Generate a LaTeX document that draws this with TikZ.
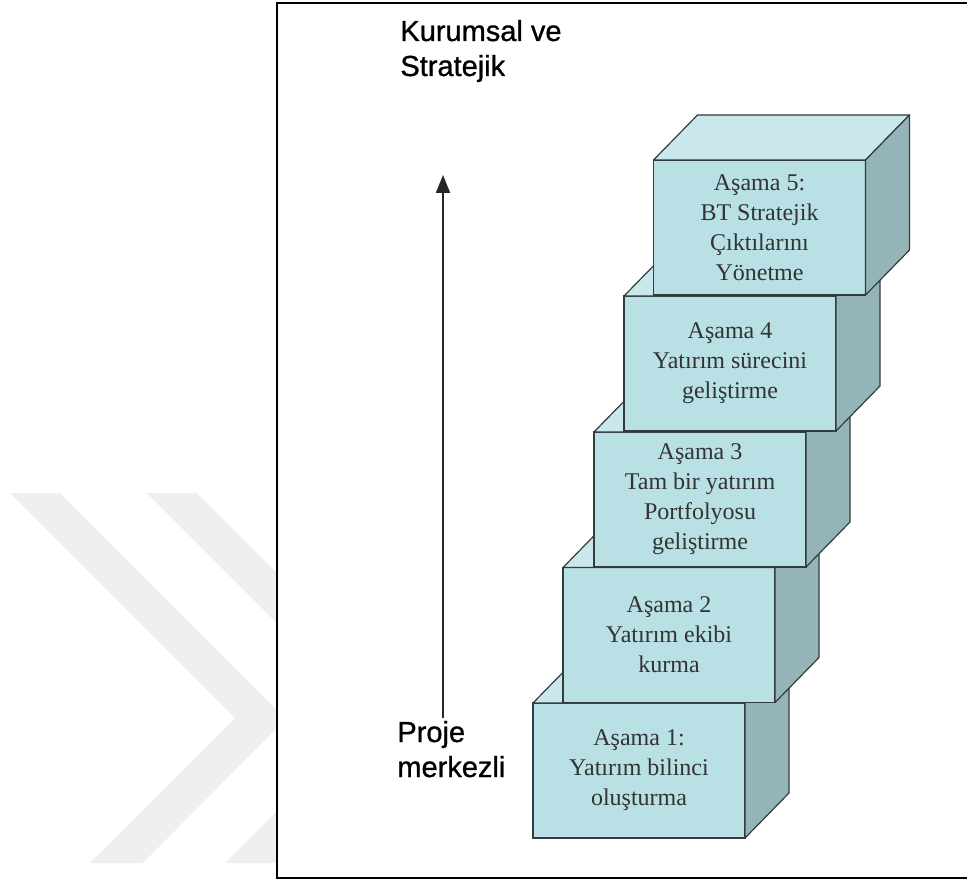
\documentclass[tikz,border=0pt]{standalone}
\usepackage{fontspec}
\setmainfont{Liberation Serif}
\newfontfamily\labelfont[FakeBold=0.9]{Liberation Sans}
\usepackage{tikz}
\usetikzlibrary{arrows.meta}
\definecolor{face_front}{RGB}{185,224,228}
\definecolor{face_top}{RGB}{202,232,235}
\definecolor{face_side}{RGB}{148,180,183}
\definecolor{edge_dark}{RGB}{50,60,62}
\definecolor{mark_gray}{RGB}{239,239,239}

\begin{document}
\begin{tikzpicture}[x=0.5pt,y=-0.5pt,>={Triangle[length=9pt,width=7pt]}]
    \tikzstyle{stage}=[draw=edge_dark,fill=face_front,line width=0.6pt,minimum width=106pt,minimum height=67.5pt,inner sep=0pt,outer sep=0pt,align=center,text=black!80,font=\fontsize{12}{15}\selectfont]
    \tikzstyle{topface}=[draw=edge_dark,fill=face_top,line width=0.6pt,line join=round]
    \tikzstyle{sideface}=[draw=edge_dark,fill=face_side,line width=0.6pt,line join=round]
    \tikzstyle{axislabel}=[anchor=base west,inner sep=0pt,align=left,text=black,font=\labelfont\fontsize{14.5}{17.5}\selectfont]

    \useasboundingbox (0,0) rectangle (967,882);

    % faint chevrons behind the frame
    \fill[mark_gray] (10,493) -- (60,493) -- (286,719) -- (143,863) -- (90,863) -- (235,718) -- cycle;
    \fill[mark_gray] (147,493) -- (197,493) -- (421,717) -- (275,863) -- (225,863) -- (371,717) -- cycle;

    % frame
    \draw[line width=1.1pt,fill=white] (277,3) rectangle (972,878);

    % stages, bottom to top
    \node[stage] (s1) at (639,770.5) {Aşama 1:\\Yatırım bilinci\\oluşturma};
    \path[topface] (s1.north west) -- ++(44,-45) -- ([shift={(44,-45)}]s1.north east) -- (s1.north east) -- cycle;
    \path[sideface] (s1.north east) -- ++(44,-45) -- ++(0,135) -- (s1.south east) -- cycle;

    \node[stage] (s2) at (669,635) {Aşama 2\\Yatırım ekibi\\kurma};
    \path[topface] (s2.north west) -- ++(44,-45) -- ([shift={(44,-45)}]s2.north east) -- (s2.north east) -- cycle;
    \path[sideface] (s2.north east) -- ++(44,-45) -- ++(0,135) -- (s2.south east) -- cycle;

    \node[stage] (s3) at (700,499.5) {Aşama 3\\Tam bir yatırım\\Portfolyosu\\geliştirme};
    \path[topface] (s3.north west) -- ++(44,-45) -- ([shift={(44,-45)}]s3.north east) -- (s3.north east) -- cycle;
    \path[sideface] (s3.north east) -- ++(44,-45) -- ++(0,135) -- (s3.south east) -- cycle;

    \node[stage] (s4) at (730,363.5) {Aşama 4\\Yatırım sürecini\\geliştirme};
    \path[topface] (s4.north west) -- ++(44,-45) -- ([shift={(44,-45)}]s4.north east) -- (s4.north east) -- cycle;
    \path[sideface] (s4.north east) -- ++(44,-45) -- ++(0,135) -- (s4.south east) -- cycle;

    \node[stage] (s5) at (759.5,227.5) {Aşama 5:\\BT Stratejik\\Çıktılarını\\Yönetme};
    \path[topface] (s5.north west) -- ++(44,-45) -- ([shift={(44,-45)}]s5.north east) -- (s5.north east) -- cycle;
    \path[sideface] (s5.north east) -- ++(44,-45) -- ++(0,135) -- (s5.south east) -- cycle;

    % axis
    \node[axislabel] (top) at (400,76) {Kurumsal ve\\Stratejik};
    \node[axislabel] (bottom) at (397,777) {Proje\\merkezli};
    \coordinate (low) at (443,718);
    \coordinate (high) at (443,175);
    \draw[->,line width=1pt,black!85] (low) -- (high);
\end{tikzpicture}
\end{document}
